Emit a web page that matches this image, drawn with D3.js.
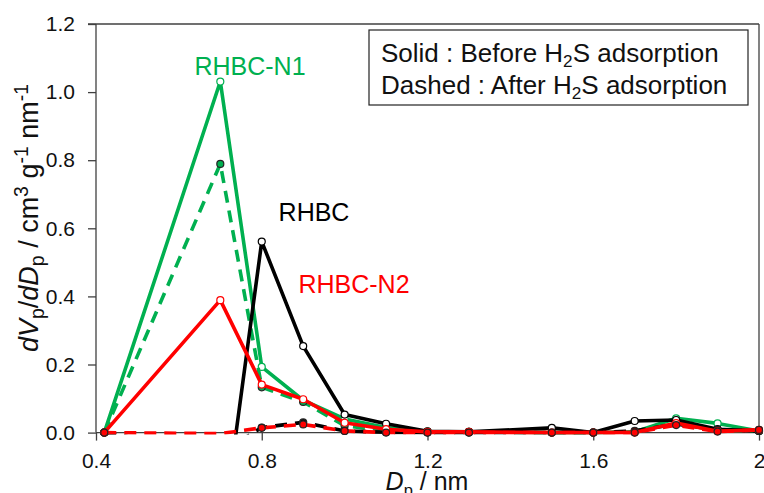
<html>
<head>
<meta charset="utf-8">
<title>Pore size distribution</title>
<style>
  body { margin: 0; background: #fff; }
  text { font-family: "Liberation Sans", Arial, sans-serif; fill: #111; }
</style>
</head>
<body>
<script src="https://cdnjs.cloudflare.com/ajax/libs/d3/7.8.5/d3.min.js"></script>
<script>
// pore diameter (nm)
var poreSize = [0.42, 0.7, 0.8, 0.9, 1.0, 1.1, 1.2, 1.3, 1.5, 1.6, 1.7, 1.8, 1.9, 2.0];

// before H2S adsorption (solid)
var rhbcBefore   = [0, -0.344, 0.561, 0.254, 0.053, 0.026, 0.004, 0.002, 0.014, 0.0, 0.034, 0.037, 0.010, 0.005];
var rhbcN1Before = [0, 1.031, 0.193, 0.095, 0.040, 0.015, 0.003, 0.002, 0.0, 0.0, 0.002, 0.042, 0.027, 0.005];
var rhbcN2Before = [0, 0.389, 0.141, 0.098, 0.029, 0.010, 0.002, 0.002, 0.0, 0.0, 0.0, 0.028, 0.004, 0.008];

// after H2S adsorption (dashed)
var rhbcAfter   = [0, -0.060, 0.015, 0.030, 0.005, 0.001, 0.0, 0.0, 0.0, 0.0, 0.005, 0.025, 0.008, 0.005];
var rhbcN1After = [0, 0.789, 0.133, 0.090, 0.020, 0.005, 0.002, 0.002, 0.0, 0.0, 0.003, 0.035, 0.006, 0.005];
var rhbcN2After = [0, -0.003, 0.014, 0.024, 0.005, 0.0, 0.0, 0.0, 0.0, 0.0, 0.0, 0.022, 0.003, 0.008];

var xTicks = [0.4, 0.8, 1.2, 1.6, 2.0];
var xTickLabels = ["0.4", "0.8", "1.2", "1.6", "2"];
var yTicks = [0, 0.2, 0.4, 0.6, 0.8, 1.0, 1.2];

var width = 764, height = 493;
var margin = {top: 24, right: 5, bottom: 60, left: 96};

var green = "#00b050", red = "#ff0000", black = "#000000";

var series = [
  {name: "RHBC-N1", values: rhbcN1Before, color: green, dashed: false},
  {name: "RHBC-N1", values: rhbcN1After,  color: green, dashed: true},
  {name: "RHBC",    values: rhbcBefore,   color: black, dashed: false},
  {name: "RHBC",    values: rhbcAfter,    color: black, dashed: true},
  {name: "RHBC-N2", values: rhbcN2Before, color: red,   dashed: false},
  {name: "RHBC-N2", values: rhbcN2After,  color: red,   dashed: true}
];

var svg = d3.select("body").append("svg")
  .attr("width", width)
  .attr("height", height);

var x = d3.scaleLinear().domain([0.4, 2.0]).range([margin.left, width - margin.right]);
var y = d3.scaleLinear().domain([0, 1.2]).range([height - margin.bottom - 0.4, margin.top]);

// clip lines to the positive part of the plot
svg.append("clipPath").attr("id", "plotclip")
  .append("rect")
  .attr("x", margin.left).attr("y", margin.top)
  .attr("width", x(2.0) - margin.left + 6)
  .attr("height", y(0) - margin.top + 1.8);

// frame: top and right borders
var axisColor = "#404040";
svg.append("line")
  .attr("x1", margin.left - 8).attr("x2", x(2.0))
  .attr("y1", y(1.2)).attr("y2", y(1.2))
  .attr("stroke", axisColor).attr("stroke-width", 1.3);
svg.append("line")
  .attr("x1", x(2.0)).attr("x2", x(2.0))
  .attr("y1", y(1.2)).attr("y2", y(0))
  .attr("stroke", axisColor).attr("stroke-width", 1.3);

// axes
var yAxis = d3.axisLeft(y).tickValues(yTicks).tickFormat(d3.format(".1f"))
  .tickSize(8).tickPadding(13);
var gy = svg.append("g").attr("transform", "translate(" + margin.left + ",0)").call(yAxis);

var xAxis = d3.axisBottom(x).tickValues(xTicks)
  .tickFormat(function(d, i) { return xTickLabels[i]; })
  .tickSize(8).tickPadding(12);
var gx = svg.append("g").attr("transform", "translate(0," + y(0) + ")").call(xAxis);

[gx, gy].forEach(function(g) {
  g.select(".domain").remove();
  g.selectAll(".tick line").attr("stroke", axisColor).attr("stroke-width", 1.3);
  g.selectAll(".tick text").attr("font-size", 21).attr("fill", "#111")
    .attr("font-family", "'Liberation Sans', Arial, sans-serif");
});
svg.append("line")
  .attr("x1", margin.left).attr("x2", margin.left)
  .attr("y1", y(1.2)).attr("y2", y(0))
  .attr("stroke", axisColor).attr("stroke-width", 1.3);
svg.append("line")
  .attr("x1", margin.left).attr("x2", x(2.0))
  .attr("y1", y(0)).attr("y2", y(0))
  .attr("stroke", axisColor).attr("stroke-width", 1.3);

// series
var line = d3.line()
  .x(function(d) { return x(d[0]); })
  .y(function(d) { return y(d[1]); });

series.forEach(function(s) {
  var pts = poreSize.map(function(p, i) { return [p, s.values[i]]; });
  var g = svg.append("g");
  g.append("path")
    .datum(pts)
    .attr("d", line)
    .attr("clip-path", "url(#plotclip)")
    .attr("fill", "none")
    .attr("stroke", s.color)
    .attr("stroke-width", 3.6)
    .attr("stroke-linejoin", "round")
    .attr("stroke-dasharray", s.dashed ? "12,8" : null);
  g.selectAll("circle")
    .data(pts.filter(function(d) { return d[1] >= 0; }))
    .enter().append("circle")
    .attr("cx", function(d) { return x(d[0]); })
    .attr("cy", function(d) { return y(d[1]); })
    .attr("r", 3.5)
    .attr("fill", s.dashed ? s.color : "#fff")
    .attr("stroke", s.dashed ? "#222" : s.color)
    .attr("stroke-width", 1.2);
});

// rich text helper for sub/superscripts
function rich(t, parts, size, ratio) {
  var cur = 0;
  ratio = ratio || 0.66;
  parts.forEach(function(p) {
    var shift = p.sub ? 0.22 * size : (p.sup ? -0.38 * size : 0);
    var ts = t.append("tspan").text(p.t).attr("dy", shift - cur);
    cur = shift;
    if (p.sub || p.sup) ts.attr("font-size", ratio * size);
    if (p.i) ts.attr("font-style", "italic");
  });
}

// axis titles
var xt = svg.append("text")
  .attr("x", 427).attr("y", 490)
  .attr("text-anchor", "middle")
  .attr("font-size", 25);
rich(xt, [{t: "D", i: true}, {t: "p", sub: true}, {t: " / nm"}], 25);

var yt = svg.append("text")
  .attr("transform", "translate(38,218) rotate(-90)")
  .attr("text-anchor", "middle")
  .attr("font-size", 27);
rich(yt, [
  {t: "d", i: true}, {t: "V", i: true}, {t: "p", sub: true},
  {t: "/"}, {t: "dD", i: true}, {t: "p", sub: true},
  {t: " / cm"}, {t: "3", sup: true}, {t: " g"}, {t: "-1", sup: true},
  {t: " nm"}, {t: "-1", sup: true}
], 27, 0.72);

// series labels
var labels = [
  {text: "RHBC-N1", color: green, x: 250, y: 75},
  {text: "RHBC",    color: black, x: 314, y: 221},
  {text: "RHBC-N2", color: red,   x: 354, y: 293}
];
svg.selectAll(".slabel")
  .data(labels)
  .enter().append("text")
  .attr("class", "slabel")
  .attr("x", function(d) { return d.x; })
  .attr("y", function(d) { return d.y; })
  .attr("text-anchor", "middle")
  .attr("font-size", 25)
  .style("fill", function(d) { return d.color; })
  .text(function(d) { return d.text; });

// legend note box
svg.append("rect")
  .attr("x", 369).attr("y", 30)
  .attr("width", 379).attr("height", 75)
  .attr("fill", "#fff")
  .attr("stroke", "#222").attr("stroke-width", 1.2);

var l1 = svg.append("text").attr("x", 381).attr("y", 61.5).attr("font-size", 26);
rich(l1, [{t: "Solid : Before H"}, {t: "2", sub: true}, {t: "S adsorption"}], 26);
var l2 = svg.append("text").attr("x", 381).attr("y", 93.5).attr("font-size", 26);
rich(l2, [{t: "Dashed : After H"}, {t: "2", sub: true}, {t: "S adsorption"}], 26);
</script>
</body>
</html>
